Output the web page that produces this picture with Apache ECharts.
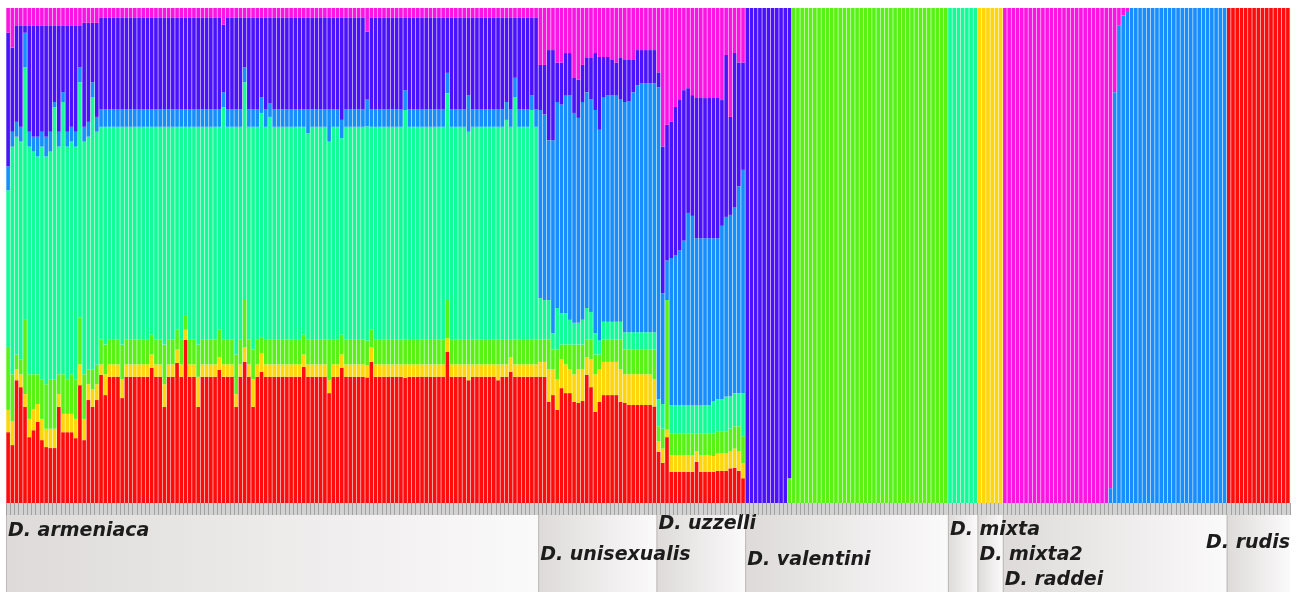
<!DOCTYPE html>
<html>
<head>
<meta charset="utf-8">
<title>STRUCTURE plot</title>
<script src="https://cdn.jsdelivr.net/npm/echarts@6/dist/echarts.min.js"></script>
<style>
html,body{margin:0;padding:0;background:#fff}
#chart{width:1303px;height:592px}
</style>
</head>
<body>
<div id="chart"></div>
<script>
// clusters from bottom of the stack to top
var clusters = ['K1','K2','K3','K4','K5','K6','K7']
var colors = ['#ff0d0d','#ffd60a','#58f214','#12fc98','#168eff','#4b12ff','#fb14e4']
var groupNames = ['D. armeniaca','D. unisexualis','D. uzzelli','D. valentini','D. mixta','D. mixta2','D. raddei','D. rudis']

// membership (%) per individual: [red, yellow, green, mint, blue, purple, magenta]
var armeniaca = [
  [14.3,4.5,12.7,31.7,4.8,27,5],[11.7,4.8,9.5,46,3,17,8],[24.8,2.2,3,44,3,19.5,3.5],[23.4,2.6,3,44,3,20.5,3.5],[19.4,2.6,15,51,7,1.5,3.5],[13.3,3.7,9,46,3,21.5,3.5],
  [14.7,4.3,7,45,3,22.5,3.5],[16.4,3.6,6,44,4,22.5,3.5],[12.7,4.3,8,47,3,21.5,3.5],[11.3,3.7,9,46,4,22.5,3.5],[11.1,3.9,10,46,4,21.5,3.5],[11.1,3.9,10,55,1,15.5,3.5],
  [19.4,2.6,4,46,3,21.5,3.5],[14.3,3.7,8,55,2,13.5,3.5],[14.3,3.7,7,47,3,21.5,3.5],[14.3,3.7,8,47,3,20.5,3.5],[13.1,3.9,8,47,3,21.5,3.5],[23.8,4.2,9.5,47.5,3,8.5,3.5],
  [12.7,4.3,9,47,3,21,3],[20.8,3.2,3,47,3,20,3],[19.4,3.6,4,55,3,12,3],[20.8,3.2,4,47,3,19,3],[25.9,2.1,5,43,3.5,18.5,2],[21.8,4.2,6,44,3.5,18.5,2],
  [25.5,2.5,5,43,3.5,18.5,2],[25.5,2.5,5,43,3.5,18.5,2],[25.5,2.5,5,43,3.5,18.5,2],[21.2,3.8,7,44,3.5,18.5,2],[25.5,2.5,5,43,3.5,18.5,2],[25.5,2.5,5,43,3.5,18.5,2],
  [25.5,2.5,5,43,3.5,18.5,2],[25.5,2.5,5,43,3.5,18.5,2],[25.5,2.5,5,43,3.5,18.5,2],[25.5,2.5,5,43,3.5,18.5,2],[27.3,2.7,4,42,3.5,18.5,2],[25.5,2.5,5,43,3.5,18.5,2],
  [25.5,2.5,5,43,3.5,18.5,2],[19.4,4.6,8,44,3.5,18.5,2],[25.5,2.5,5,43,3.5,18.5,2],[25.5,2.5,5,43,3.5,18.5,2],[28.3,2.7,4,41,3.5,18.5,2],[25.5,2.5,5,43,3.5,18.5,2],
  [33,2,3,38,3.5,18.5,2],[25.5,2.5,5,43,3.5,18.5,2],[25.5,2.5,5,43,3.5,18.5,2],[19.4,6.1,6.5,44,3.5,18.5,2],[25.5,2.5,5,43,3.5,18.5,2],[25.5,2.5,5,43,3.5,18.5,2],
  [25.5,2.5,5,43,3.5,18.5,2],[25.5,2.5,5,43,3.5,18.5,2],[26.9,2.6,5.5,41,3.5,18.5,2],[25.5,2.5,5,47,3,13.6,3.4],[25.5,2.5,5,43,3.5,18.5,2],[25.5,2.5,5,43,3.5,18.5,2],
  [19.4,2.6,8,46,3.5,18.5,2],[25.5,2.5,5,43,3.5,18.5,2],[28.5,3,9.5,44,3,10,2],[25.5,2.5,5,43,3.5,18.5,2],[19.4,5.6,6,45,3.5,18.5,2],[25.5,2.5,5,43,3.5,18.5,2],
  [26.5,3.8,3.2,45.3,3.2,16,2],[25.5,2.5,5,43,3.5,18.5,2],[25.5,2.5,5,45,2.8,17.2,2],[25.5,2.5,5,43,3.5,18.5,2],[25.5,2.5,5,43,3.5,18.5,2],[25.5,2.5,5,43,3.5,18.5,2],
  [25.5,2.5,5,43,3.5,18.5,2],[25.5,2.5,5,43,3.5,18.5,2],[25.5,2.5,5,43,3.5,18.5,2],[25.5,2.5,5,43,3.5,18.5,2],[27.5,2.5,4,42,3.5,18.5,2],[25.5,2.5,5,41.7,4.8,18.5,2],
  [25.5,2.5,5,43,3.5,18.5,2],[25.5,2.5,5,43,3.5,18.5,2],[25.5,2.5,5,43,3.5,18.5,2],[25.5,2.5,5,43,3.5,18.5,2],[22.2,2.6,8.2,40,6.5,18.5,2],[25.5,2.5,5,43,3.5,18.5,2],
  [25.5,2.5,5,43,3.5,18.5,2],[27.3,2.7,4,39.7,3.7,20.6,2],[25.5,2.5,5,43,3.5,18.5,2],[25.5,2.5,5,43,3.5,18.5,2],[25.5,2.5,5,43,3.5,18.5,2],[25.5,2.5,5,43,3.5,18.5,2],
  [25.5,2.5,5,43,3.5,18.5,2],[25.5,2.5,5,43.5,5.4,13.8,4.8],[28.5,3,3.5,41,3.5,18.5,2],[25.5,2.5,5,43,3.5,18.5,2],[25.5,2.5,5,43,3.5,18.5,2],[25.5,2.5,5,43,3.5,18.5,2],
  [25.5,2.5,5,43,3.5,18.5,2],[25.5,2.5,5,43,3.5,18.5,2],[25.5,2.5,5,43,3.5,18.5,2],[25.5,2.5,5,43,3.5,18.5,2],[25.3,2.7,5,46.4,4,14.6,2],[25.5,2.5,5,43,3.5,18.5,2],
  [25.5,2.5,5,43,3.5,18.5,2],[25.5,2.5,5,43,3.5,18.5,2],[25.5,2.5,5,43,3.5,18.5,2],[25.5,2.5,5,43,3.5,18.5,2],[25.5,2.5,5,43,3.5,18.5,2],[25.5,2.5,5,43,3.5,18.5,2],
  [25.5,2.5,5,43,3.5,18.5,2],[25.5,2.5,5,43,3.5,18.5,2],[30.5,2.8,7.7,41.8,4.1,11.1,2],[25.5,2.5,5,43,3.5,18.5,2],[25.5,2.5,5,43,3.5,18.5,2],[25.5,2.5,5,43,3.5,18.5,2],
  [25.5,2.5,5,43,3.5,18.5,2],[24.8,3.2,5,42,7.4,15.6,2],[25.5,2.5,5,43,3.5,18.5,2],[25.5,2.5,5,43,3.5,18.5,2],[25.5,2.5,5,43,3.5,18.5,2],[25.5,2.5,5,43,3.5,18.5,2],
  [25.5,2.5,5,43,3.5,18.5,2],[25.5,2.5,5,43,3.5,18.5,2],[24.8,3.2,5,43,3.5,18.5,2],[25.5,2.5,5,43,3.5,18.5,2],[25.5,2.5,5,44.4,3.6,17,2],[26.5,3,3.5,43,3.5,18.5,2],
  [25.5,2.5,5,49,3.9,12.1,2],[25.5,2.5,5,43,3.5,18.5,2],[25.5,2.5,5,43,3.5,18.5,2],[25.5,2.5,5,43,3.5,18.5,2],[25.5,2.5,5,46.4,3,15.6,2],[25.5,2.5,5,43,3.5,18.5,2]
]
var unisexualis = [
  [25.5,3,4.5,8.4,38,9.1,11.5],[25.5,3,4.5,8,37.5,10,11.5],[20.4,6.6,6,8,32.3,18.2,8.5],[21.8,5.2,4,3.3,39,18.2,8.5],
  [18.8,6.2,6,8.4,41.6,8,11],[23.2,5.8,3,6.4,42.1,8.5,11],[22.2,5.8,4,6.4,44,8.5,9.1],[22.2,4.8,5,5,45.4,8.5,9.1],
  [20.4,5.6,6,4.4,42.4,7.2,14],[20.2,6.8,5,4.4,41.4,7.7,14.5],[20.6,6.4,5,5,44,7.5,11.5],[25.9,3.6,3.5,6.4,43.6,6.9,10.1],
  [23.4,5.6,4,5.6,43,8.3,10.1],[18.4,7.6,4,4.3,45.1,11.5,9.1],[20.4,6.6,3,2.9,42.5,14.7,9.9],[21.8,6.7,4.5,3.6,45.4,8.1,9.9],
  [21.8,6.7,4.5,3.6,45.8,7.7,9.9],[21.8,6.7,4.5,3.6,45.8,7.1,10.5],[21.8,6.7,4.5,3.6,45.8,6.6,11],[20.4,6.6,6,3.6,45,8.3,10.1],
  [20.2,5.8,5,3.5,46.5,8.5,10.5],[19.8,6.2,5,3.5,46.7,8.3,10.5],[19.8,6.2,5,3.5,48.5,6.5,10.5],[19.8,6.2,5,3.5,49.9,7.1,8.5],
  [19.8,6.2,5,3.5,50.3,6.7,8.5],[19.8,6.2,5,3.5,50.3,6.7,8.5],[19.8,6.2,5,3.5,50.3,6.7,8.5],[19.5,5.5,6,3.5,50.3,6.7,8.5]
]
var uzzelli = [
  [10.3,2.2,3,5.5,63,3,13],[8.1,2.9,4,5,22.4,29.6,28],[13.3,1.5,26.2,0,8,27.4,23.6],[6.3,3.4,4.3,5.8,29.7,27.5,23],
  [6.3,3.4,4.3,5.8,30.2,30,20],[6.3,3.4,4.3,5.8,31.2,30.4,18.6],[6.3,3.4,4.3,5.8,33.2,30.4,16.6],[6.3,3.4,4.3,5.8,38.8,25.2,16.2],
  [6.3,3.4,4.3,5.8,38.2,24.4,17.6],[8.3,2.2,3.5,5.8,33.7,28.3,18.2],[6.3,3.4,4.3,5.8,33.7,28.3,18.2],[6.3,3.4,4.3,5.8,33.7,28.3,18.2],
  [6.3,3.4,4.3,5.8,33.7,28.3,18.2],[6.3,3.2,4.5,6.5,33,28.3,18.2],[6.5,3.5,4.5,6.5,32.5,28.3,18.2],[6.5,3.5,4.5,6.5,35,25.4,18.6],
  [6.5,3.5,4.5,7,36.3,32.7,9.5],[7,3.5,4.5,6.5,36.7,19.8,22],[7.1,3.9,4.5,6.7,37.6,31.1,9.1],[6.5,4,5,6.7,41.8,25,11],
  [5,3,5.5,8.7,45.1,21.7,11]
]
var valentini = [
  [0,0,0,0,0,100,0],[0,0,0,0,0,100,0],[0,0,0,0,0,100,0],[0,0,0,0,0,100,0],[0,0,0,0,0,100,0],[0,0,0,0,0,100,0],
  [0,0,0,0,0,100,0],[0,0,0,0,0,100,0],[0,0,0,0,0,100,0],[0,0,0,0,0,100,0],[0,0,5,0,0,95,0],
  [0,0,100,0,0,0,0],[0,0,100,0,0,0,0],[0,0,100,0,0,0,0],[0,0,100,0,0,0,0],[0,0,100,0,0,0,0],[0,0,100,0,0,0,0],
  [0,0,100,0,0,0,0],[0,0,100,0,0,0,0],[0,0,100,0,0,0,0],[0,0,100,0,0,0,0],[0,0,100,0,0,0,0],[0,0,100,0,0,0,0],
  [0,0,100,0,0,0,0],[0,0,100,0,0,0,0],[0,0,100,0,0,0,0],[0,0,100,0,0,0,0],[0,0,100,0,0,0,0],[0,0,100,0,0,0,0],
  [0,0,100,0,0,0,0],[0,0,100,0,0,0,0],[0,0,100,0,0,0,0],[0,0,100,0,0,0,0],[0,0,100,0,0,0,0],[0,0,100,0,0,0,0],
  [0,0,100,0,0,0,0],[0,0,100,0,0,0,0],[0,0,100,0,0,0,0],[0,0,100,0,0,0,0],[0,0,100,0,0,0,0],[0,0,100,0,0,0,0],
  [0,0,100,0,0,0,0],[0,0,100,0,0,0,0],[0,0,100,0,0,0,0],[0,0,100,0,0,0,0],[0,0,100,0,0,0,0],[0,0,100,0,0,0,0],
  [0,0,100,0,0,0,0]
]
var mixta = [
  [0,0,0,100,0,0,0],[0,0,0,100,0,0,0],[0,0,0,100,0,0,0],[0,0,0,100,0,0,0],[0,0,0,100,0,0,0],[0,0,0,100,0,0,0],[0,0,0,100,0,0,0]
]
var mixta2 = [
  [0,100,0,0,0,0,0],[0,100,0,0,0,0,0],[0,100,0,0,0,0,0],[0,100,0,0,0,0,0],[0,100,0,0,0,0,0],[0,100,0,0,0,0,0]
]
var raddei = [
  [0,0,0,0,0,0,100],[0,0,0,0,0,0,100],[0,0,0,0,0,0,100],[0,0,0,0,0,0,100],[0,0,0,0,0,0,100],[0,0,0,0,0,0,100],
  [0,0,0,0,0,0,100],[0,0,0,0,0,0,100],[0,0,0,0,0,0,100],[0,0,0,0,0,0,100],[0,0,0,0,0,0,100],[0,0,0,0,0,0,100],
  [0,0,0,0,0,0,100],[0,0,0,0,0,0,100],[0,0,0,0,0,0,100],[0,0,0,0,0,0,100],[0,0,0,0,0,0,100],[0,0,0,0,0,0,100],
  [0,0,0,0,0,0,100],[0,0,0,0,0,0,100],[0,0,0,0,0,0,100],[0,0,0,0,0,0,100],[0,0,0,0,0,0,100],[0,0,0,0,0,0,100],
  [0,0,0,0,0,0,100],[0,0,0,0,3,0,97],[0,0,0,0,83,0,17],[0,0,0,0,96.5,0,3.5],[0,0,0,0,98.5,0,1.5],[0,0,0,0,99.2,0,0.8],
  [0,0,0,0,100,0,0],[0,0,0,0,100,0,0],[0,0,0,0,100,0,0],[0,0,0,0,100,0,0],[0,0,0,0,100,0,0],[0,0,0,0,100,0,0],
  [0,0,0,0,100,0,0],[0,0,0,0,100,0,0],[0,0,0,0,100,0,0],[0,0,0,0,100,0,0],[0,0,0,0,100,0,0],[0,0,0,0,100,0,0],
  [0,0,0,0,100,0,0],[0,0,0,0,100,0,0],[0,0,0,0,100,0,0],[0,0,0,0,100,0,0],[0,0,0,0,100,0,0],[0,0,0,0,100,0,0],
  [0,0,0,0,100,0,0],[0,0,0,0,100,0,0],[0,0,0,0,100,0,0],[0,0,0,0,100,0,0],[0,0,0,0,100,0,0]
]
var rudis = [
  [100,0,0,0,0,0,0],[100,0,0,0,0,0,0],[100,0,0,0,0,0,0],[100,0,0,0,0,0,0],[100,0,0,0,0,0,0],
  [100,0,0,0,0,0,0],[100,0,0,0,0,0,0],[100,0,0,0,0,0,0],[100,0,0,0,0,0,0],[100,0,0,0,0,0,0],
  [100,0,0,0,0,0,0],[100,0,0,0,0,0,0],[100,0,0,0,0,0,0],[100,0,0,0,0,0,0],[100,0,0,0,0,0,0]
]

var groups = [armeniaca, unisexualis, uzzelli, valentini, mixta, mixta2, raddei, rudis]
// label centre, px below the bottom of the bars
var labelOffset = [28, 52, 21, 57, 27, 52, 77, 40]

var individuals = [], rows = [], groupStart = []
groups.forEach(function(g, gi){
    groupStart.push(rows.length)
    g.forEach(function(r, j){
        individuals.push(groupNames[gi] + ' ' + (j + 1))
        rows.push(r)
    })
})
groupStart.push(rows.length)
var N = rows.length

var chart = echarts.init(document.getElementById('chart'))

var series = clusters.map(function(name, k){
    return {
        name: name, type: 'bar', stack: 'q', silent: true,
        barCategoryGap: '14%',
        itemStyle: {color: colors[k]},
        data: rows.map(function(r){
            var s = r.reduce(function(a, b){ return a + b }, 0)
            return +(r[k] / s * 100).toFixed(3)
        })
    }
})

series.push({
    type: 'custom', xAxisIndex: 1, yAxisIndex: 1, silent: true,
    data: groupNames.map(function(n, i){ return [groupStart[i], groupStart[i + 1], i] }),
    renderItem: function(params, api){
        var i = api.value(2)
        var s0 = api.coord([api.value(0), 0]), p0 = api.coord([api.value(0), 12]), p1 = api.coord([api.value(1), 89])
        var w = p1[0] - p0[0]
        return {type: 'group', children: [
            {type: 'rect', shape: {x: s0[0], y: s0[1], width: w, height: p0[1] - s0[1]}, style: {fill: '#d2d2d2'}},
            {type: 'rect', shape: {x: p0[0], y: p0[1], width: w, height: p1[1] - p0[1]},
             style: {fill: new echarts.graphic.LinearGradient(0, 0, 1, 0, [
                 {offset: 0, color: '#dedada'}, {offset: 1, color: '#fbfafa'}])}},
            {type: 'line', shape: {x1: p0[0] + 0.5, y1: p0[1], x2: p0[0] + 0.5, y2: p1[1]}, style: {stroke: '#bdb9b9', lineWidth: 1}},
            {type: 'text', z2: 100,
             x: i == groupNames.length - 1 ? p1[0] : p0[0] + 2,
             y: api.coord([0, labelOffset[i]])[1],
             style: {text: groupNames[i], fill: '#1c1c1c', font: 'italic bold 19px "DejaVu Sans"',
                     align: i == groupNames.length - 1 ? 'right' : 'left', verticalAlign: 'middle'}}
        ]}
    }
})

chart.setOption({
    animation: false,
    backgroundColor: '#fff',
    grid: [
        {left: 6, right: 13, top: 8, bottom: 89},
        {left: 6, right: 13, top: 503, height: 89}
    ],
    xAxis: [
        {type: 'category', data: individuals, gridIndex: 0, z: 10,
         axisLabel: {show: false}, axisLine: {show: false},
         axisTick: {show: true, interval: 0, length: 12, lineStyle: {color: '#a2a2a2'}}},
        {type: 'value', gridIndex: 1, min: 0, max: N, show: false}
    ],
    yAxis: [
        {type: 'value', gridIndex: 0, min: 0, max: 100, show: false},
        {type: 'value', gridIndex: 1, min: 0, max: 89, inverse: true, show: false}
    ],
    series: series
})
</script>
</body>
</html>
